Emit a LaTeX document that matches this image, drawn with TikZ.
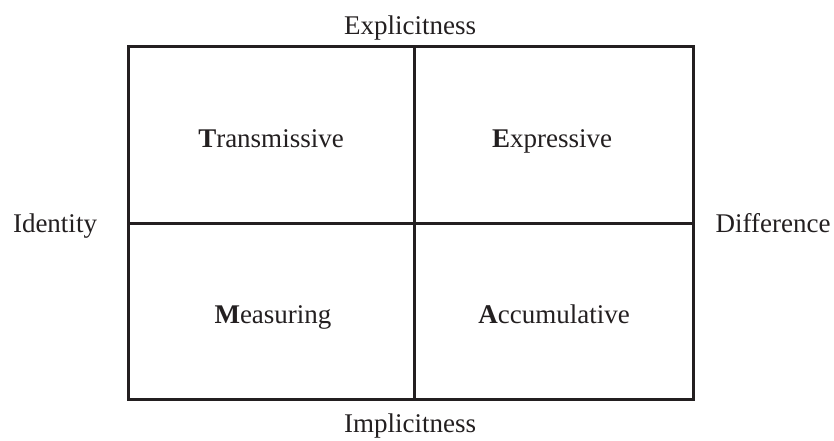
\documentclass[tikz,border=0pt]{standalone}
\usepackage{fontspec}
\setmainfont{Liberation Serif}
\begin{document}
\begin{tikzpicture}[x=1pt,y=-1pt,
  lbl/.style={anchor=base,inner sep=0pt,font=\fontsize{27}{32}\selectfont,text=ink},
  gridline/.style={draw=ink,line width=3pt}]
\definecolor{ink}{HTML}{231F20}
\useasboundingbox (0,0) rectangle (834,441);
\coordinate (tl) at (128,47);
\coordinate (br) at (693,399);
\coordinate (mt) at (414,47);
\coordinate (mb) at (414,399);
\coordinate (ml) at (128,223);
\coordinate (mr) at (693,223);
\draw[gridline] (tl) rectangle (br);
\draw[gridline] (mt) -- (mb);
\draw[gridline] (ml) -- (mr);
\node[lbl] (expl) at (410,35) {Explicitness};
\node[lbl] (impl) at (410,432) {Implicitness};
\node[lbl] (iden) at (55,232) {Identity};
\node[lbl] (diff) at (773,232) {Difference};
\node[lbl] (trans) at (271,147) {\textbf{T}ransmissive};
\node[lbl] (expr) at (552,147) {\textbf{E}xpressive};
\node[lbl] (meas) at (273,323) {\textbf{M}easuring};
\node[lbl] (accu) at (554,323) {\textbf{A}ccumulative};
\end{tikzpicture}
\end{document}
